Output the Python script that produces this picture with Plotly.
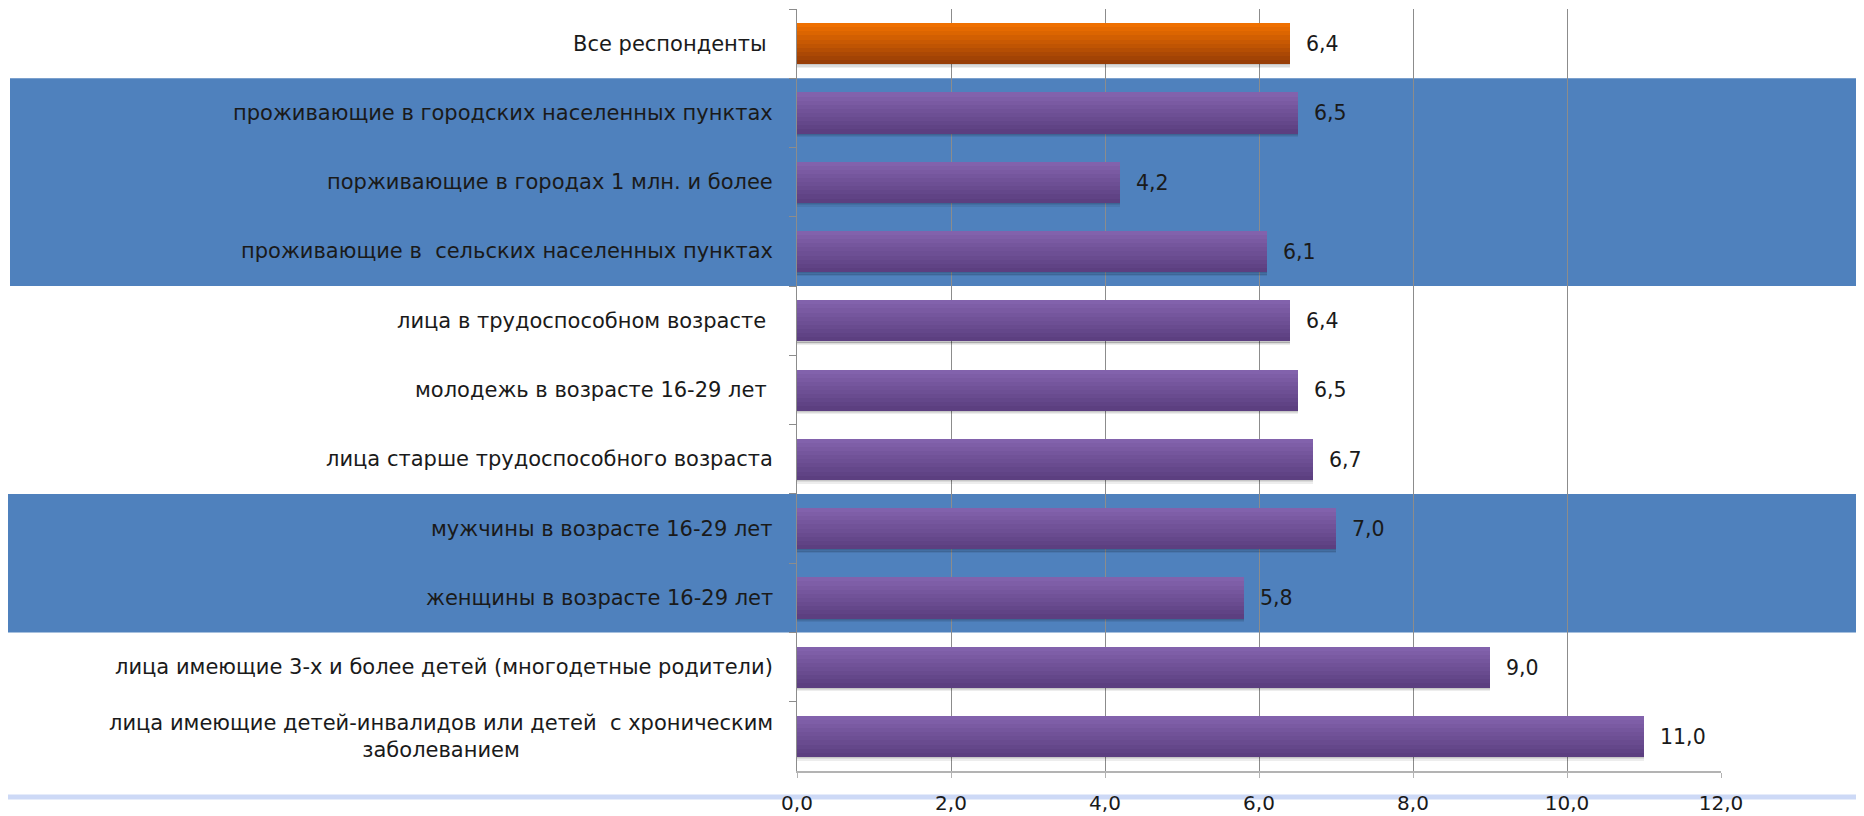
import plotly.graph_objects as go

# Data
categories = [
    "Все респонденты\u00a0",
    "проживающие в городских населенных пунктах",
    "порживающие в городах 1 млн. и более",
    "проживающие в \u00a0сельских населенных пунктах",
    "лица в трудоспособном возрасте\u00a0",
    "молодежь в возрасте 16-29 лет\u00a0",
    "лица старше трудоспособного возраста",
    "мужчины в возрасте 16-29 лет",
    "женщины в возрасте 16-29 лет",
    "лица имеющие 3-х и более детей (многодетные родители)",
    "лица имеющие детей-инвалидов или детей \u00a0с хроническим<br>заболеванием",
]
values = [6.4, 6.5, 4.2, 6.1, 6.4, 6.5, 6.7, 7.0, 5.8, 9.0, 11.0]
x_ticks = [0, 2, 4, 6, 8, 10, 12]

# category groups shaded with the blue band (first, last index, left edge px)
bands = [(1, 3, 2), (7, 8, -8)]

FONT = "DejaVu Sans"
# page body keeps its default 8px margin
W, H = 1856, 808
L, R, T, B = 789, 143, 1, 29
PW = W - L - R
PH = H - T - B


def mix(c1, c2, t):
    a = [int(c1[i:i + 2], 16) for i in (1, 3, 5)]
    b = [int(c2[i:i + 2], 16) for i in (1, 3, 5)]
    return "rgb(%d,%d,%d)" % tuple(round(a[j] + (b[j] - a[j]) * t) for j in range(3))


purple = ("#8262AC", "#5C3F80")
orange = ("#EF7000", "#983D06")
grad = [orange if i == 0 else purple for i in range(len(values))]

fig = go.Figure()

bar_w = 0.59

# soft shadow under the bars
for k, a in enumerate([0.22, 0.14, 0.07]):
    fig.add_trace(go.Bar(
        x=values, y=categories, orientation="h",
        width=0.02, offset=bar_w / 2 + k * 0.018,
        marker=dict(color="rgba(0,0,0,%.2f)" % a, line=dict(width=0)),
        hoverinfo="skip", showlegend=False,
    ))

# gradient bars built from thin horizontal strips
n = 10
step = bar_w / n
for k in range(n):
    t = k / (n - 1)
    fig.add_trace(go.Bar(
        x=values, y=categories, orientation="h",
        width=step * 1.08, offset=-bar_w / 2 + k * step,
        marker=dict(color=[mix(c[0], c[1], t) for c in grad], line=dict(width=0)),
        hoverinfo="skip", showlegend=False,
    ))

# value labels
fig.add_trace(go.Bar(
    x=values, y=categories, orientation="h",
    width=bar_w, offset=-bar_w / 2,
    marker=dict(color="rgba(0,0,0,0)", line=dict(width=0)),
    text=["\u00a0\u00a0" + f"{v:.1f}".replace(".", ",") for v in values],
    textposition="outside", cliponaxis=False,
    textfont=dict(family=FONT, size=20.5, color="#1a1a1a"),
    showlegend=False,
))

# category labels as annotations (centered second line)
for c in categories:
    fig.add_annotation(
        x=0, y=c, xref="x", yref="y", text=c, showarrow=False,
        xanchor="right", xshift=-22, align="center",
        font=dict(family=FONT, size=21, color="#1a1a1a"),
    )

for first, last, left in bands:
    fig.add_shape(
        type="rect", xref="paper", yref="y",
        x0=(left - L) / PW, x1=(W - L) / PW,
        y0=first - 0.5, y1=last + 0.5,
        fillcolor="#4F81BD", line=dict(width=0), layer="below",
    )

# light decorative strip at the bottom
fig.add_shape(
    type="rect", xref="paper", yref="paper",
    x0=-L / PW, x1=(W - L) / PW,
    y0=-B / PH, y1=-(B - 5) / PH,
    fillcolor="#cdd9f6", line=dict(width=0), layer="below",
)

fig.update_layout(
    width=W, height=H,
    margin=dict(l=L, r=R, t=T, b=B),
    barmode="overlay", bargap=0,
    paper_bgcolor="white", plot_bgcolor="rgba(0,0,0,0)",
    separators=", ",
    showlegend=False,
    xaxis=dict(
        range=[0, 12], tickvals=x_ticks, tickformat=".1f",
        showgrid=True, gridcolor="#8c8c8c", gridwidth=1, zeroline=False,
        showline=True, linecolor="#b3b3b3", linewidth=2,
        ticks="outside", ticklen=5, tickcolor="#b3b3b3",
        ticklabelstandoff=8,
        tickfont=dict(family=FONT, size=20, color="#1a1a1a"),
    ),
    yaxis=dict(
        type="category", categoryorder="array", categoryarray=categories,
        range=[len(categories) - 0.5, -0.5],
        showticklabels=False, showgrid=False, zeroline=False,
        showline=True, linecolor="#8c8c8c", linewidth=1,
        ticks="outside", tickson="boundaries", ticklen=7, tickcolor="#8c8c8c",
    ),
)

fig.write_html("out.html", config={"displayModeBar": False})
